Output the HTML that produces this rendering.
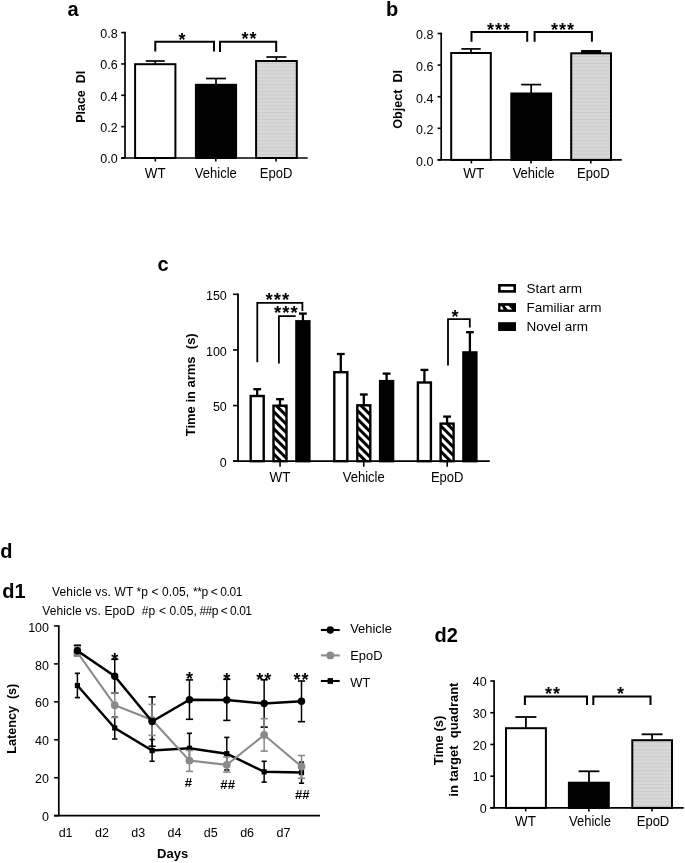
<!DOCTYPE html>
<html><head><meta charset="utf-8"><title>Figure</title><style>html,body{margin:0;padding:0;background:#fff;}svg{display:block;}</style></head><body>
<svg width="685" height="863" viewBox="0 0 685 863">
<defs><pattern id="gr" width="4" height="3.5" patternUnits="userSpaceOnUse"><rect width="4" height="3.5" fill="#d8d8d8"/><rect width="4" height="1" fill="#cbcbcb"/></pattern><pattern id="hx" width="6" height="6" patternUnits="userSpaceOnUse" patternTransform="rotate(45)"><rect width="6" height="6" fill="#fff"/><rect width="6" height="3" fill="#000"/></pattern></defs>
<g font-family='"Liberation Sans", sans-serif' fill="#000">
<rect width="685" height="863" fill="#fff"/>
<text x="67.60" y="15.60" font-size="20" font-weight="bold" xml:space="preserve">a</text>
<line x1="125.00" y1="31.85" x2="125.00" y2="158.00" stroke="#000" stroke-width="1.7"/>
<line x1="121.20" y1="158.00" x2="125.00" y2="158.00" stroke="#000" stroke-width="1.6"/>
<text x="0.00" y="0.00" font-size="13.6" text-anchor="end" transform="translate(117.60 163.40) scale(0.92 1)" xml:space="preserve">0.0</text>
<line x1="121.20" y1="126.65" x2="125.00" y2="126.65" stroke="#000" stroke-width="1.6"/>
<text x="0.00" y="0.00" font-size="13.6" text-anchor="end" transform="translate(117.60 132.05) scale(0.92 1)" xml:space="preserve">0.2</text>
<line x1="121.20" y1="95.30" x2="125.00" y2="95.30" stroke="#000" stroke-width="1.6"/>
<text x="0.00" y="0.00" font-size="13.6" text-anchor="end" transform="translate(117.60 100.70) scale(0.92 1)" xml:space="preserve">0.4</text>
<line x1="121.20" y1="63.95" x2="125.00" y2="63.95" stroke="#000" stroke-width="1.6"/>
<text x="0.00" y="0.00" font-size="13.6" text-anchor="end" transform="translate(117.60 69.35) scale(0.92 1)" xml:space="preserve">0.6</text>
<line x1="121.20" y1="32.60" x2="125.00" y2="32.60" stroke="#000" stroke-width="1.6"/>
<text x="0.00" y="0.00" font-size="13.6" text-anchor="end" transform="translate(117.60 38.00) scale(0.92 1)" xml:space="preserve">0.8</text>
<line x1="121.20" y1="158.00" x2="307.70" y2="158.00" stroke="#000" stroke-width="1.7"/>
<line x1="155.30" y1="158.00" x2="155.30" y2="161.50" stroke="#000" stroke-width="1.6"/>
<text x="0.00" y="0.00" font-size="14" text-anchor="middle" transform="translate(155.30 178.30) scale(0.96 1)" xml:space="preserve">WT</text>
<line x1="215.80" y1="158.00" x2="215.80" y2="161.50" stroke="#000" stroke-width="1.6"/>
<text x="0.00" y="0.00" font-size="14" text-anchor="middle" transform="translate(215.80 178.30) scale(0.93 1)" xml:space="preserve">Vehicle</text>
<line x1="276.10" y1="158.00" x2="276.10" y2="161.50" stroke="#000" stroke-width="1.6"/>
<text x="0.00" y="0.00" font-size="14" text-anchor="middle" transform="translate(276.10 178.30) scale(0.93 1)" xml:space="preserve">EpoD</text>
<rect x="135.10" y="64.20" width="40.30" height="93.80" fill="#fff" stroke="#000" stroke-width="2"/>
<rect x="195.90" y="84.80" width="40.20" height="73.20" fill="#000" stroke="#000" stroke-width="2"/>
<rect x="256.10" y="61.00" width="40.70" height="97.00" fill="url(#gr)" stroke="#000" stroke-width="2"/>
<line x1="155.30" y1="61.00" x2="155.30" y2="64.20" stroke="#000" stroke-width="1.7"/>
<line x1="145.80" y1="61.00" x2="164.80" y2="61.00" stroke="#000" stroke-width="1.7"/>
<line x1="216.00" y1="78.50" x2="216.00" y2="84.80" stroke="#000" stroke-width="1.7"/>
<line x1="206.00" y1="78.50" x2="226.00" y2="78.50" stroke="#000" stroke-width="1.7"/>
<line x1="276.40" y1="57.00" x2="276.40" y2="61.00" stroke="#000" stroke-width="1.7"/>
<line x1="266.40" y1="57.00" x2="286.40" y2="57.00" stroke="#000" stroke-width="1.7"/>
<polyline fill="none" stroke="#000" stroke-width="2" stroke-linejoin="miter" points="155.30,51.60 155.30,41.80 214.00,41.80 214.00,51.60"/>
<polyline fill="none" stroke="#000" stroke-width="2" stroke-linejoin="miter" points="220.00,52.00 220.00,41.80 276.20,41.80 276.20,52.00"/>
<text x="182.00" y="45.50" font-size="18" text-anchor="middle" font-weight="bold" xml:space="preserve">*</text>
<text x="249.50" y="45.00" font-size="18" text-anchor="middle" font-weight="bold" letter-spacing="1" xml:space="preserve">**</text>
<text x="0.00" y="0.00" font-size="13" text-anchor="middle" font-weight="bold" transform="translate(85.00 96.80) rotate(-90) scale(0.96 1)" xml:space="preserve">Place  DI</text>
<text x="386.10" y="16.00" font-size="20" font-weight="bold" xml:space="preserve">b</text>
<line x1="441.20" y1="32.75" x2="441.20" y2="159.90" stroke="#000" stroke-width="1.7"/>
<line x1="437.60" y1="159.90" x2="441.20" y2="159.90" stroke="#000" stroke-width="1.6"/>
<text x="0.00" y="0.00" font-size="13.6" text-anchor="end" transform="translate(433.40 165.70) scale(0.92 1)" xml:space="preserve">0.0</text>
<line x1="437.60" y1="128.30" x2="441.20" y2="128.30" stroke="#000" stroke-width="1.6"/>
<text x="0.00" y="0.00" font-size="13.6" text-anchor="end" transform="translate(433.40 134.10) scale(0.92 1)" xml:space="preserve">0.2</text>
<line x1="437.60" y1="96.70" x2="441.20" y2="96.70" stroke="#000" stroke-width="1.6"/>
<text x="0.00" y="0.00" font-size="13.6" text-anchor="end" transform="translate(433.40 102.50) scale(0.92 1)" xml:space="preserve">0.4</text>
<line x1="437.60" y1="65.10" x2="441.20" y2="65.10" stroke="#000" stroke-width="1.6"/>
<text x="0.00" y="0.00" font-size="13.6" text-anchor="end" transform="translate(433.40 70.90) scale(0.92 1)" xml:space="preserve">0.6</text>
<line x1="437.60" y1="33.50" x2="441.20" y2="33.50" stroke="#000" stroke-width="1.6"/>
<text x="0.00" y="0.00" font-size="13.6" text-anchor="end" transform="translate(433.40 39.30) scale(0.92 1)" xml:space="preserve">0.8</text>
<line x1="437.60" y1="159.90" x2="621.80" y2="159.90" stroke="#000" stroke-width="1.7"/>
<line x1="471.40" y1="159.90" x2="471.40" y2="163.40" stroke="#000" stroke-width="1.6"/>
<text x="0.00" y="0.00" font-size="14" text-anchor="middle" transform="translate(473.70 178.20) scale(0.96 1)" xml:space="preserve">WT</text>
<line x1="531.00" y1="159.90" x2="531.00" y2="163.40" stroke="#000" stroke-width="1.6"/>
<text x="0.00" y="0.00" font-size="14" text-anchor="middle" transform="translate(533.60 178.20) scale(0.93 1)" xml:space="preserve">Vehicle</text>
<line x1="590.80" y1="159.90" x2="590.80" y2="163.40" stroke="#000" stroke-width="1.6"/>
<text x="0.00" y="0.00" font-size="14" text-anchor="middle" transform="translate(593.30 178.20) scale(0.93 1)" xml:space="preserve">EpoD</text>
<rect x="451.20" y="53.00" width="39.60" height="106.90" fill="#fff" stroke="#000" stroke-width="2"/>
<rect x="511.30" y="93.50" width="39.80" height="66.40" fill="#000" stroke="#000" stroke-width="2"/>
<rect x="571.20" y="53.30" width="39.80" height="106.60" fill="url(#gr)" stroke="#000" stroke-width="2"/>
<line x1="471.00" y1="48.90" x2="471.00" y2="53.00" stroke="#000" stroke-width="1.7"/>
<line x1="461.30" y1="48.90" x2="480.70" y2="48.90" stroke="#000" stroke-width="1.7"/>
<line x1="531.20" y1="84.60" x2="531.20" y2="93.50" stroke="#000" stroke-width="1.7"/>
<line x1="521.20" y1="84.60" x2="541.20" y2="84.60" stroke="#000" stroke-width="1.7"/>
<rect x="581.1" y="50" width="20" height="3" fill="#000"/>
<polyline fill="none" stroke="#000" stroke-width="2" stroke-linejoin="miter" points="471.50,41.70 471.50,32.00 527.20,32.00 527.20,41.70"/>
<polyline fill="none" stroke="#000" stroke-width="2" stroke-linejoin="miter" points="534.60,41.70 534.60,32.00 591.90,32.00 591.90,41.70"/>
<text x="499.00" y="35.50" font-size="18" text-anchor="middle" font-weight="bold" letter-spacing="1" xml:space="preserve">***</text>
<text x="563.00" y="35.50" font-size="18" text-anchor="middle" font-weight="bold" letter-spacing="1" xml:space="preserve">***</text>
<text x="0.00" y="0.00" font-size="13.2" text-anchor="middle" font-weight="bold" transform="translate(402.30 99.40) rotate(-90) scale(0.955 1)" xml:space="preserve">Object  DI</text>
<text x="157.50" y="271.00" font-size="20" font-weight="bold" xml:space="preserve">c</text>
<line x1="238.00" y1="293.56" x2="238.00" y2="461.20" stroke="#000" stroke-width="1.8"/>
<line x1="233.00" y1="461.20" x2="238.00" y2="461.20" stroke="#000" stroke-width="1.6"/>
<text x="0.00" y="0.00" font-size="13.6" text-anchor="end" transform="translate(226.80 466.90) scale(0.92 1)" xml:space="preserve">0</text>
<line x1="233.00" y1="405.57" x2="238.00" y2="405.57" stroke="#000" stroke-width="1.6"/>
<text x="0.00" y="0.00" font-size="13.6" text-anchor="end" transform="translate(226.80 411.27) scale(0.92 1)" xml:space="preserve">50</text>
<line x1="233.00" y1="349.94" x2="238.00" y2="349.94" stroke="#000" stroke-width="1.6"/>
<text x="0.00" y="0.00" font-size="13.6" text-anchor="end" transform="translate(226.80 355.64) scale(0.92 1)" xml:space="preserve">100</text>
<line x1="233.00" y1="294.31" x2="238.00" y2="294.31" stroke="#000" stroke-width="1.6"/>
<text x="0.00" y="0.00" font-size="13.6" text-anchor="end" transform="translate(226.80 300.01) scale(0.92 1)" xml:space="preserve">150</text>
<line x1="233.00" y1="461.20" x2="489.80" y2="461.20" stroke="#000" stroke-width="1.8"/>
<line x1="280.05" y1="461.20" x2="280.05" y2="466.70" stroke="#000" stroke-width="1.6"/>
<text x="0.00" y="0.00" font-size="14" text-anchor="middle" transform="translate(280.05 482.20) scale(0.96 1)" xml:space="preserve">WT</text>
<line x1="363.75" y1="461.20" x2="363.75" y2="466.70" stroke="#000" stroke-width="1.6"/>
<text x="0.00" y="0.00" font-size="14" text-anchor="middle" transform="translate(363.75 482.20) scale(0.93 1)" xml:space="preserve">Vehicle</text>
<line x1="447.20" y1="461.20" x2="447.20" y2="466.70" stroke="#000" stroke-width="1.6"/>
<text x="0.00" y="0.00" font-size="14" text-anchor="middle" transform="translate(447.20 482.20) scale(0.93 1)" xml:space="preserve">EpoD</text>
<line x1="257.20" y1="389.20" x2="257.20" y2="396.00" stroke="#000" stroke-width="2.3"/>
<line x1="253.30" y1="389.20" x2="261.10" y2="389.20" stroke="#000" stroke-width="2.3"/>
<rect x="250.70" y="396.00" width="13.00" height="65.20" fill="#fff" stroke="#000" stroke-width="2.4"/>
<line x1="280.00" y1="399.20" x2="280.00" y2="405.70" stroke="#000" stroke-width="2.3"/>
<line x1="276.10" y1="399.20" x2="283.90" y2="399.20" stroke="#000" stroke-width="2.3"/>
<rect x="273.50" y="405.70" width="13.00" height="55.50" fill="url(#hx)" stroke="#000" stroke-width="2.4"/>
<line x1="302.90" y1="313.60" x2="302.90" y2="321.30" stroke="#000" stroke-width="2.3"/>
<line x1="299.00" y1="313.60" x2="306.80" y2="313.60" stroke="#000" stroke-width="2.3"/>
<rect x="296.40" y="321.30" width="13.00" height="139.90" fill="#000" stroke="#000" stroke-width="2.4"/>
<line x1="340.80" y1="354.00" x2="340.80" y2="372.20" stroke="#000" stroke-width="2.3"/>
<line x1="336.90" y1="354.00" x2="344.70" y2="354.00" stroke="#000" stroke-width="2.3"/>
<rect x="334.30" y="372.20" width="13.00" height="89.00" fill="#fff" stroke="#000" stroke-width="2.4"/>
<line x1="363.80" y1="394.50" x2="363.80" y2="405.30" stroke="#000" stroke-width="2.3"/>
<line x1="359.90" y1="394.50" x2="367.70" y2="394.50" stroke="#000" stroke-width="2.3"/>
<rect x="357.30" y="405.30" width="13.00" height="55.90" fill="url(#hx)" stroke="#000" stroke-width="2.4"/>
<line x1="386.60" y1="373.60" x2="386.60" y2="381.10" stroke="#000" stroke-width="2.3"/>
<line x1="382.70" y1="373.60" x2="390.50" y2="373.60" stroke="#000" stroke-width="2.3"/>
<rect x="380.10" y="381.10" width="13.00" height="80.10" fill="#000" stroke="#000" stroke-width="2.4"/>
<line x1="424.40" y1="369.90" x2="424.40" y2="382.50" stroke="#000" stroke-width="2.3"/>
<line x1="420.50" y1="369.90" x2="428.30" y2="369.90" stroke="#000" stroke-width="2.3"/>
<rect x="417.90" y="382.50" width="13.00" height="78.70" fill="#fff" stroke="#000" stroke-width="2.4"/>
<line x1="447.10" y1="416.60" x2="447.10" y2="423.60" stroke="#000" stroke-width="2.3"/>
<line x1="443.20" y1="416.60" x2="451.00" y2="416.60" stroke="#000" stroke-width="2.3"/>
<rect x="440.60" y="423.60" width="13.00" height="37.60" fill="url(#hx)" stroke="#000" stroke-width="2.4"/>
<line x1="469.90" y1="332.20" x2="469.90" y2="352.40" stroke="#000" stroke-width="2.3"/>
<line x1="466.00" y1="332.20" x2="473.80" y2="332.20" stroke="#000" stroke-width="2.3"/>
<rect x="463.40" y="352.40" width="13.00" height="108.80" fill="#000" stroke="#000" stroke-width="2.4"/>
<polyline fill="none" stroke="#000" stroke-width="1.8" stroke-linejoin="miter" points="257.30,362.20 257.30,302.80 302.40,302.80 302.40,311.10"/>
<polyline fill="none" stroke="#000" stroke-width="1.8" stroke-linejoin="miter" points="278.90,363.40 278.90,316.20 295.70,316.20"/>
<polyline fill="none" stroke="#000" stroke-width="1.8" stroke-linejoin="miter" points="448.00,365.60 448.00,319.20 469.80,319.20 469.80,327.40"/>
<text x="277.80" y="305.90" font-size="18.6" text-anchor="middle" font-weight="bold" letter-spacing="1" xml:space="preserve">***</text>
<text x="286.30" y="318.90" font-size="18.6" text-anchor="middle" font-weight="bold" letter-spacing="1" xml:space="preserve">***</text>
<text x="455.00" y="323.00" font-size="18" text-anchor="middle" font-weight="bold" xml:space="preserve">*</text>
<text x="0.00" y="0.00" font-size="13.4" text-anchor="middle" font-weight="bold" transform="translate(195.30 384.80) rotate(-90) scale(0.97 1)" xml:space="preserve">Time in arms  (s)</text>
<rect x="499.4" y="285.3" width="15.3" height="6.1" fill="#fff" stroke="#000" stroke-width="2.6"/>
<rect x="498.1" y="303.1" width="17.9" height="8.8" fill="#000"/>
<polygon points="500.5,306.3 501.8,306.3 503.7,309.4 500.5,309.4" fill="#fff"/>
<polygon points="504.7,305.8 508.5,305.8 512.3,309.4 507.7,309.4" fill="#fff"/>
<rect x="498.1" y="322.2" width="17.9" height="8.8" fill="#000"/>
<text x="526.50" y="293.20" font-size="13.5" xml:space="preserve">Start arm</text>
<text x="526.50" y="312.10" font-size="13.5" xml:space="preserve">Familiar arm</text>
<text x="526.50" y="331.40" font-size="13.5" xml:space="preserve">Novel arm</text>
<text x="0.20" y="557.90" font-size="20" font-weight="bold" xml:space="preserve">d</text>
<text x="2.30" y="597.60" font-size="20" font-weight="bold" xml:space="preserve">d1</text>
<text x="52.00" y="595.80" font-size="12" textLength="81.4" lengthAdjust="spacing" xml:space="preserve">Vehicle vs. WT</text>
<text x="136.60" y="595.80" font-size="12" textLength="52.4" lengthAdjust="spacing" xml:space="preserve">*p &lt; 0.05,</text>
<text x="193.00" y="595.80" font-size="12" textLength="49.4" lengthAdjust="spacing" xml:space="preserve">**p &lt; 0.01</text>
<text x="42.20" y="615.20" font-size="12" textLength="92.6" lengthAdjust="spacing" xml:space="preserve">Vehicle vs. EpoD</text>
<text x="141.80" y="615.20" font-size="12" textLength="55" lengthAdjust="spacing" xml:space="preserve">#p &lt; 0.05,</text>
<text x="199.40" y="615.20" font-size="12" textLength="52.6" lengthAdjust="spacing" xml:space="preserve">##p &lt; 0.01</text>
<line x1="58.80" y1="625.20" x2="58.80" y2="815.70" stroke="#000" stroke-width="1.7"/>
<line x1="54.10" y1="815.70" x2="58.80" y2="815.70" stroke="#000" stroke-width="1.6"/>
<text x="0.00" y="0.00" font-size="13.6" text-anchor="end" transform="translate(49.00 821.30) scale(0.92 1)" xml:space="preserve">0</text>
<line x1="54.10" y1="777.75" x2="58.80" y2="777.75" stroke="#000" stroke-width="1.6"/>
<text x="0.00" y="0.00" font-size="13.6" text-anchor="end" transform="translate(49.00 783.35) scale(0.92 1)" xml:space="preserve">20</text>
<line x1="54.10" y1="739.80" x2="58.80" y2="739.80" stroke="#000" stroke-width="1.6"/>
<text x="0.00" y="0.00" font-size="13.6" text-anchor="end" transform="translate(49.00 745.40) scale(0.92 1)" xml:space="preserve">40</text>
<line x1="54.10" y1="701.85" x2="58.80" y2="701.85" stroke="#000" stroke-width="1.6"/>
<text x="0.00" y="0.00" font-size="13.6" text-anchor="end" transform="translate(49.00 707.45) scale(0.92 1)" xml:space="preserve">60</text>
<line x1="54.10" y1="663.90" x2="58.80" y2="663.90" stroke="#000" stroke-width="1.6"/>
<text x="0.00" y="0.00" font-size="13.6" text-anchor="end" transform="translate(49.00 669.50) scale(0.92 1)" xml:space="preserve">80</text>
<line x1="54.10" y1="625.95" x2="58.80" y2="625.95" stroke="#000" stroke-width="1.6"/>
<text x="0.00" y="0.00" font-size="13.6" text-anchor="end" transform="translate(49.00 631.55) scale(0.92 1)" xml:space="preserve">100</text>
<line x1="54.10" y1="815.70" x2="320.00" y2="815.70" stroke="#000" stroke-width="1.7"/>
<text x="65.60" y="836.70" font-size="12.5" text-anchor="middle" xml:space="preserve">d1</text>
<text x="101.90" y="836.70" font-size="12.5" text-anchor="middle" xml:space="preserve">d2</text>
<text x="138.20" y="836.70" font-size="12.5" text-anchor="middle" xml:space="preserve">d3</text>
<text x="174.50" y="836.70" font-size="12.5" text-anchor="middle" xml:space="preserve">d4</text>
<text x="210.80" y="836.70" font-size="12.5" text-anchor="middle" xml:space="preserve">d5</text>
<text x="247.10" y="836.70" font-size="12.5" text-anchor="middle" xml:space="preserve">d6</text>
<text x="283.40" y="836.70" font-size="12.5" text-anchor="middle" xml:space="preserve">d7</text>
<text x="172.60" y="858.30" font-size="13" text-anchor="middle" font-weight="bold" xml:space="preserve">Days</text>
<text x="0.00" y="0.00" font-size="13.2" text-anchor="middle" font-weight="bold" transform="translate(16.00 718.70) rotate(-90) scale(0.955 1)" xml:space="preserve">Latency  (s)</text>
<line x1="77.40" y1="673.30" x2="77.40" y2="697.60" stroke="#000" stroke-width="1.5"/>
<line x1="74.80" y1="673.30" x2="80.00" y2="673.30" stroke="#000" stroke-width="1.6"/>
<line x1="74.80" y1="697.60" x2="80.00" y2="697.60" stroke="#000" stroke-width="1.6"/>
<line x1="114.75" y1="717.00" x2="114.75" y2="739.00" stroke="#000" stroke-width="1.5"/>
<line x1="112.15" y1="717.00" x2="117.35" y2="717.00" stroke="#000" stroke-width="1.6"/>
<line x1="112.15" y1="739.00" x2="117.35" y2="739.00" stroke="#000" stroke-width="1.6"/>
<line x1="152.10" y1="739.50" x2="152.10" y2="761.30" stroke="#000" stroke-width="1.5"/>
<line x1="149.50" y1="739.50" x2="154.70" y2="739.50" stroke="#000" stroke-width="1.6"/>
<line x1="149.50" y1="761.30" x2="154.70" y2="761.30" stroke="#000" stroke-width="1.6"/>
<line x1="189.45" y1="733.30" x2="189.45" y2="763.00" stroke="#000" stroke-width="1.5"/>
<line x1="186.85" y1="733.30" x2="192.05" y2="733.30" stroke="#000" stroke-width="1.6"/>
<line x1="186.85" y1="763.00" x2="192.05" y2="763.00" stroke="#000" stroke-width="1.6"/>
<line x1="226.80" y1="737.40" x2="226.80" y2="770.00" stroke="#000" stroke-width="1.5"/>
<line x1="224.20" y1="737.40" x2="229.40" y2="737.40" stroke="#000" stroke-width="1.6"/>
<line x1="224.20" y1="770.00" x2="229.40" y2="770.00" stroke="#000" stroke-width="1.6"/>
<line x1="264.15" y1="761.30" x2="264.15" y2="782.10" stroke="#000" stroke-width="1.5"/>
<line x1="261.55" y1="761.30" x2="266.75" y2="761.30" stroke="#000" stroke-width="1.6"/>
<line x1="261.55" y1="782.10" x2="266.75" y2="782.10" stroke="#000" stroke-width="1.6"/>
<line x1="301.50" y1="762.10" x2="301.50" y2="783.20" stroke="#000" stroke-width="1.5"/>
<line x1="298.90" y1="762.10" x2="304.10" y2="762.10" stroke="#000" stroke-width="1.6"/>
<line x1="298.90" y1="783.20" x2="304.10" y2="783.20" stroke="#000" stroke-width="1.6"/>
<line x1="77.40" y1="645.20" x2="77.40" y2="655.00" stroke="#000" stroke-width="1.5"/>
<line x1="73.80" y1="645.20" x2="81.00" y2="645.20" stroke="#000" stroke-width="1.6"/>
<line x1="73.80" y1="655.00" x2="81.00" y2="655.00" stroke="#000" stroke-width="1.6"/>
<line x1="114.75" y1="659.30" x2="114.75" y2="693.00" stroke="#000" stroke-width="1.5"/>
<line x1="111.15" y1="659.30" x2="118.35" y2="659.30" stroke="#000" stroke-width="1.6"/>
<line x1="111.15" y1="693.00" x2="118.35" y2="693.00" stroke="#000" stroke-width="1.6"/>
<line x1="152.10" y1="696.90" x2="152.10" y2="746.30" stroke="#000" stroke-width="1.5"/>
<line x1="148.50" y1="696.90" x2="155.70" y2="696.90" stroke="#000" stroke-width="1.6"/>
<line x1="148.50" y1="746.30" x2="155.70" y2="746.30" stroke="#000" stroke-width="1.6"/>
<line x1="189.45" y1="679.90" x2="189.45" y2="719.30" stroke="#000" stroke-width="1.5"/>
<line x1="185.85" y1="679.90" x2="193.05" y2="679.90" stroke="#000" stroke-width="1.6"/>
<line x1="185.85" y1="719.30" x2="193.05" y2="719.30" stroke="#000" stroke-width="1.6"/>
<line x1="226.80" y1="679.30" x2="226.80" y2="720.40" stroke="#000" stroke-width="1.5"/>
<line x1="223.20" y1="679.30" x2="230.40" y2="679.30" stroke="#000" stroke-width="1.6"/>
<line x1="223.20" y1="720.40" x2="230.40" y2="720.40" stroke="#000" stroke-width="1.6"/>
<line x1="264.15" y1="679.80" x2="264.15" y2="727.10" stroke="#000" stroke-width="1.5"/>
<line x1="260.55" y1="679.80" x2="267.75" y2="679.80" stroke="#000" stroke-width="1.6"/>
<line x1="260.55" y1="727.10" x2="267.75" y2="727.10" stroke="#000" stroke-width="1.6"/>
<line x1="301.50" y1="681.00" x2="301.50" y2="721.70" stroke="#000" stroke-width="1.5"/>
<line x1="297.90" y1="681.00" x2="305.10" y2="681.00" stroke="#000" stroke-width="1.6"/>
<line x1="297.90" y1="721.70" x2="305.10" y2="721.70" stroke="#000" stroke-width="1.6"/>
<polyline fill="none" stroke="#000" stroke-width="2.5" stroke-linejoin="miter" points="77.40,685.50 114.75,728.00 152.10,750.60 189.45,748.30 226.80,753.70 264.15,771.80 301.50,772.60"/>
<rect x="74.80" y="682.90" width="5.2" height="5.2" fill="#000"/>
<rect x="112.15" y="725.40" width="5.2" height="5.2" fill="#000"/>
<rect x="149.50" y="748.00" width="5.2" height="5.2" fill="#000"/>
<rect x="186.85" y="745.70" width="5.2" height="5.2" fill="#000"/>
<rect x="224.20" y="751.10" width="5.2" height="5.2" fill="#000"/>
<rect x="261.55" y="769.20" width="5.2" height="5.2" fill="#000"/>
<rect x="298.90" y="770.00" width="5.2" height="5.2" fill="#000"/>
<line x1="77.40" y1="647.00" x2="77.40" y2="656.30" stroke="#8a8a8a" stroke-width="1.5"/>
<line x1="73.80" y1="647.00" x2="81.00" y2="647.00" stroke="#8a8a8a" stroke-width="1.6"/>
<line x1="73.80" y1="656.30" x2="81.00" y2="656.30" stroke="#8a8a8a" stroke-width="1.6"/>
<line x1="114.75" y1="693.00" x2="114.75" y2="717.50" stroke="#8a8a8a" stroke-width="1.5"/>
<line x1="111.15" y1="693.00" x2="118.35" y2="693.00" stroke="#8a8a8a" stroke-width="1.6"/>
<line x1="111.15" y1="717.50" x2="118.35" y2="717.50" stroke="#8a8a8a" stroke-width="1.6"/>
<line x1="152.10" y1="704.40" x2="152.10" y2="735.40" stroke="#8a8a8a" stroke-width="1.5"/>
<line x1="148.50" y1="704.40" x2="155.70" y2="704.40" stroke="#8a8a8a" stroke-width="1.6"/>
<line x1="148.50" y1="735.40" x2="155.70" y2="735.40" stroke="#8a8a8a" stroke-width="1.6"/>
<line x1="189.45" y1="750.50" x2="189.45" y2="771.40" stroke="#8a8a8a" stroke-width="1.5"/>
<line x1="185.85" y1="750.50" x2="193.05" y2="750.50" stroke="#8a8a8a" stroke-width="1.6"/>
<line x1="185.85" y1="771.40" x2="193.05" y2="771.40" stroke="#8a8a8a" stroke-width="1.6"/>
<line x1="226.80" y1="757.00" x2="226.80" y2="772.10" stroke="#8a8a8a" stroke-width="1.5"/>
<line x1="223.20" y1="757.00" x2="230.40" y2="757.00" stroke="#8a8a8a" stroke-width="1.6"/>
<line x1="223.20" y1="772.10" x2="230.40" y2="772.10" stroke="#8a8a8a" stroke-width="1.6"/>
<line x1="264.15" y1="718.70" x2="264.15" y2="751.10" stroke="#8a8a8a" stroke-width="1.5"/>
<line x1="260.55" y1="718.70" x2="267.75" y2="718.70" stroke="#8a8a8a" stroke-width="1.6"/>
<line x1="260.55" y1="751.10" x2="267.75" y2="751.10" stroke="#8a8a8a" stroke-width="1.6"/>
<line x1="301.50" y1="755.50" x2="301.50" y2="778.30" stroke="#8a8a8a" stroke-width="1.5"/>
<line x1="297.90" y1="755.50" x2="305.10" y2="755.50" stroke="#8a8a8a" stroke-width="1.6"/>
<line x1="297.90" y1="778.30" x2="305.10" y2="778.30" stroke="#8a8a8a" stroke-width="1.6"/>
<polyline fill="none" stroke="#8a8a8a" stroke-width="2.1" stroke-linejoin="miter" points="77.40,652.50 114.75,705.20 152.10,720.00 189.45,760.60 226.80,764.80 264.15,735.00 301.50,766.50"/>
<circle cx="77.40" cy="652.50" r="3.9" fill="#8a8a8a"/>
<circle cx="114.75" cy="705.20" r="3.9" fill="#8a8a8a"/>
<circle cx="152.10" cy="720.00" r="3.9" fill="#8a8a8a"/>
<circle cx="189.45" cy="760.60" r="3.9" fill="#8a8a8a"/>
<circle cx="226.80" cy="764.80" r="3.9" fill="#8a8a8a"/>
<circle cx="264.15" cy="735.00" r="3.9" fill="#8a8a8a"/>
<circle cx="301.50" cy="766.50" r="3.9" fill="#8a8a8a"/>
<polyline fill="none" stroke="#000" stroke-width="2.5" stroke-linejoin="miter" points="77.40,650.80 114.75,676.30 152.10,721.50 189.45,699.70 226.80,699.90 264.15,703.40 301.50,701.30"/>
<circle cx="77.40" cy="650.80" r="3.7" fill="#000"/>
<circle cx="114.75" cy="676.30" r="3.7" fill="#000"/>
<circle cx="152.10" cy="721.50" r="3.7" fill="#000"/>
<circle cx="189.45" cy="699.70" r="3.7" fill="#000"/>
<circle cx="226.80" cy="699.90" r="3.7" fill="#000"/>
<circle cx="264.15" cy="703.40" r="3.7" fill="#000"/>
<circle cx="301.50" cy="701.30" r="3.7" fill="#000"/>
<text x="114.75" y="665.50" font-size="18" text-anchor="middle" font-weight="bold" xml:space="preserve">*</text>
<text x="189.45" y="685.30" font-size="18" text-anchor="middle" font-weight="bold" xml:space="preserve">*</text>
<text x="226.80" y="685.80" font-size="18" text-anchor="middle" font-weight="bold" xml:space="preserve">*</text>
<text x="264.15" y="685.50" font-size="18" text-anchor="middle" font-weight="bold" letter-spacing="1" xml:space="preserve">**</text>
<text x="301.50" y="685.50" font-size="18" text-anchor="middle" font-weight="bold" letter-spacing="1" xml:space="preserve">**</text>
<text x="188.50" y="787.40" font-size="13.2" text-anchor="middle" font-weight="bold" xml:space="preserve">#</text>
<text x="227.70" y="789.20" font-size="13.2" text-anchor="middle" font-weight="bold" xml:space="preserve">##</text>
<text x="302.30" y="798.70" font-size="13.2" text-anchor="middle" font-weight="bold" xml:space="preserve">##</text>
<line x1="320.90" y1="630.00" x2="339.70" y2="630.00" stroke="#000" stroke-width="2.1"/>
<circle cx="330.3" cy="630.0" r="3.7" fill="#000"/>
<text x="0.00" y="0.00" font-size="13.6" transform="translate(350.20 632.80) scale(0.95 1)" xml:space="preserve">Vehicle</text>
<line x1="320.90" y1="655.40" x2="339.70" y2="655.40" stroke="#8a8a8a" stroke-width="2.1"/>
<circle cx="330.3" cy="655.4" r="3.9" fill="#8a8a8a"/>
<text x="0.00" y="0.00" font-size="13.6" transform="translate(350.20 659.80) scale(0.95 1)" xml:space="preserve">EpoD</text>
<line x1="320.90" y1="681.00" x2="339.70" y2="681.00" stroke="#000" stroke-width="2.1"/>
<rect x="327.6" y="678.1" width="5.4" height="5.8" fill="#000"/>
<text x="0.00" y="0.00" font-size="13.6" transform="translate(350.20 687.20) scale(0.95 1)" xml:space="preserve">WT</text>
<text x="434.60" y="642.30" font-size="20" font-weight="bold" xml:space="preserve">d2</text>
<line x1="494.10" y1="680.27" x2="494.10" y2="807.90" stroke="#000" stroke-width="1.7"/>
<line x1="490.30" y1="807.90" x2="494.10" y2="807.90" stroke="#000" stroke-width="1.6"/>
<text x="0.00" y="0.00" font-size="13.6" text-anchor="end" transform="translate(486.60 813.10) scale(0.92 1)" xml:space="preserve">0</text>
<line x1="490.30" y1="776.18" x2="494.10" y2="776.18" stroke="#000" stroke-width="1.6"/>
<text x="0.00" y="0.00" font-size="13.6" text-anchor="end" transform="translate(486.60 781.38) scale(0.92 1)" xml:space="preserve">10</text>
<line x1="490.30" y1="744.46" x2="494.10" y2="744.46" stroke="#000" stroke-width="1.6"/>
<text x="0.00" y="0.00" font-size="13.6" text-anchor="end" transform="translate(486.60 749.66) scale(0.92 1)" xml:space="preserve">20</text>
<line x1="490.30" y1="712.74" x2="494.10" y2="712.74" stroke="#000" stroke-width="1.6"/>
<text x="0.00" y="0.00" font-size="13.6" text-anchor="end" transform="translate(486.60 717.94) scale(0.92 1)" xml:space="preserve">30</text>
<line x1="490.30" y1="681.02" x2="494.10" y2="681.02" stroke="#000" stroke-width="1.6"/>
<text x="0.00" y="0.00" font-size="13.6" text-anchor="end" transform="translate(486.60 686.22) scale(0.92 1)" xml:space="preserve">40</text>
<line x1="490.30" y1="807.90" x2="683.70" y2="807.90" stroke="#000" stroke-width="1.7"/>
<line x1="525.70" y1="807.90" x2="525.70" y2="811.40" stroke="#000" stroke-width="1.6"/>
<text x="0.00" y="0.00" font-size="14" text-anchor="middle" transform="translate(525.40 825.90) scale(0.96 1)" xml:space="preserve">WT</text>
<line x1="588.90" y1="807.90" x2="588.90" y2="811.40" stroke="#000" stroke-width="1.6"/>
<text x="0.00" y="0.00" font-size="14" text-anchor="middle" transform="translate(590.00 825.90) scale(0.93 1)" xml:space="preserve">Vehicle</text>
<line x1="652.00" y1="807.90" x2="652.00" y2="811.40" stroke="#000" stroke-width="1.6"/>
<text x="0.00" y="0.00" font-size="14" text-anchor="middle" transform="translate(653.00 825.90) scale(0.93 1)" xml:space="preserve">EpoD</text>
<rect x="506.00" y="728.20" width="39.90" height="79.70" fill="#fff" stroke="#000" stroke-width="2"/>
<rect x="568.90" y="782.70" width="39.90" height="25.20" fill="#000" stroke="#000" stroke-width="2"/>
<rect x="632.30" y="740.20" width="39.70" height="67.70" fill="url(#gr)" stroke="#000" stroke-width="2"/>
<line x1="525.90" y1="717.00" x2="525.90" y2="728.20" stroke="#000" stroke-width="1.8"/>
<line x1="515.40" y1="717.00" x2="536.40" y2="717.00" stroke="#000" stroke-width="1.8"/>
<line x1="589.00" y1="771.30" x2="589.00" y2="782.70" stroke="#000" stroke-width="1.8"/>
<line x1="578.60" y1="771.30" x2="599.40" y2="771.30" stroke="#000" stroke-width="1.8"/>
<line x1="652.10" y1="734.30" x2="652.10" y2="740.20" stroke="#000" stroke-width="1.8"/>
<line x1="641.60" y1="734.30" x2="662.60" y2="734.30" stroke="#000" stroke-width="1.8"/>
<polyline fill="none" stroke="#000" stroke-width="2" stroke-linejoin="miter" points="524.90,705.10 524.90,696.50 587.00,696.50 587.00,704.90"/>
<polyline fill="none" stroke="#000" stroke-width="2" stroke-linejoin="miter" points="593.30,704.90 593.30,696.50 650.50,696.50 650.50,704.90"/>
<text x="553.00" y="700.30" font-size="18" text-anchor="middle" font-weight="bold" letter-spacing="1" xml:space="preserve">**</text>
<text x="620.50" y="700.30" font-size="18" text-anchor="middle" font-weight="bold" xml:space="preserve">*</text>
<text x="443.00" y="740.50" font-size="13" text-anchor="middle" font-weight="bold" transform="rotate(-90 443.00 740.50)" xml:space="preserve">Time (s)</text>
<text x="458.30" y="739.60" font-size="13" text-anchor="middle" font-weight="bold" transform="rotate(-90 458.30 739.60)" xml:space="preserve">in target  quadrant</text>
</g></svg>
</body></html>
